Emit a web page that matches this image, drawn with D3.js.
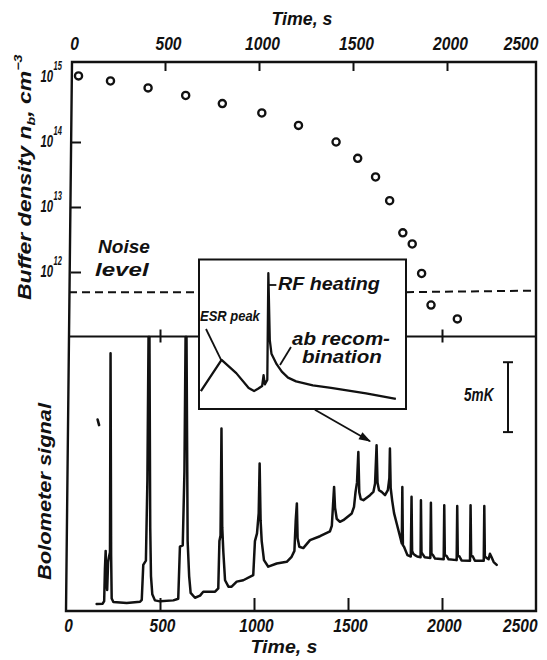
<!DOCTYPE html>
<html><head><meta charset="utf-8">
<script src="https://cdn.jsdelivr.net/npm/d3@7"></script>
<style>
html,body{margin:0;padding:0;background:#fff;}
svg text{font-family:"Liberation Sans",Arial,sans-serif;font-weight:bold;font-style:italic;fill:#111;}
</style></head><body>
<svg id="c" width="547" height="660"></svg>
<script>
// ---------------- data ----------------
const timeTicks = [0, 500, 1000, 1500, 2000, 2500];
const densityTicks = [1e12, 1e13, 1e14, 1e15];
const densityExponents = ["12", "13", "14", "15"];

// buffer density (open circles, top panel, top time axis)
const densityTime  = [40, 210, 410, 610, 805, 1015, 1210, 1410, 1525, 1620, 1695, 1765, 1815, 1865, 1915, 2055];
const densityValue = [1.04e15, 8.7e14, 6.8e14, 5.2e14, 3.9e14, 2.8e14, 1.8e14, 1.0e14, 5.6e13, 2.9e13, 1.25e13, 4.0e12, 2.7e12, 9.5e11, 3.1e11, 1.9e11];
const noiseLevel = 4.9e11;

// bolometer trace (bottom panel), value in mK above frame bottom
const signalTime = [163,195,203,207,211,215,219,224,229,234,237,240,243,252,323,394,403,411,425,433,439,444,448,452,459,473,500,571,597,606,621,630,636,641,647,655,663,686,713,730,793,810,816,822,827,831,837,846,864,881,908,943,996,1005,1016,1025,1030,1035,1041,1053,1076,1121,1174,1200,1215,1222,1228,1232,1241,1262,1298,1351,1404,1414,1420,1426,1431,1440,1457,1475,1520,1532,1540,1548,1555,1560,1568,1582,1617,1635,1644,1652,1657,1665,1679,1697,1712,1720,1723,1727,1735,1745,1759,1777,1786,1789,1792,1798,1816,1834,1838,1841,1847,1856,1868,1886,1888,1891,1898,1908,1938,1941,1944,1952,1963,2009,2012,2015,2024,2035,2078,2081,2084,2093,2104,2149,2152,2155,2164,2175,2222,2225,2228,2238,2248,2255,2262,2275,2291];
const signalValue = [0.5,0.52,0.7,3.0,4.3,2.0,1.5,3.5,3.9,4.2,18.45,4.0,0.9,0.64,0.57,0.66,0.8,3.3,3.6,9.4,19.6,19.6,6.0,2.5,1.2,0.76,0.69,0.76,0.88,4.6,4.7,10.0,19.6,19.6,5.0,2.5,1.3,0.95,1.1,1.38,1.38,1.62,5.0,5.4,13.05,6.0,4.2,2.2,1.74,1.74,2.1,2.2,2.57,5.0,5.55,7.0,10.55,6.5,5.0,3.64,3.17,3.4,3.52,3.88,4.3,6.5,7.7,5.2,4.6,4.5,5.07,5.35,5.7,6.1,7.5,8.88,7.4,6.6,6.38,6.5,6.98,7.45,8.5,9.2,11.38,8.5,8.0,7.93,8.29,8.52,9.12,11.86,9.2,8.64,8.52,8.29,8.64,9.5,11.62,8.8,7.9,7.0,6.26,5.31,4.83,8.88,4.7,4.6,4.0,3.9,8.17,4.3,4.1,4.0,3.9,3.85,7.93,4.2,4.05,3.85,3.8,7.74,4.1,4.0,3.75,3.7,7.57,4.0,3.95,3.7,3.64,7.52,3.95,3.9,3.62,3.6,7.57,3.95,3.9,3.6,3.6,7.52,3.9,3.8,3.7,4.1,3.9,3.5,3.3];
const strayMarkTime = [168, 176];
const strayMarkValue = [13.7, 13.3];

// inset (magnified single heating cycle), arbitrary units 0..100
const insetTime  = [0.9,10.9,18,24,26.6,28.5,30.5,31.2,31.8,33,33.5,34.2,35,37.5,40,43,46.9,55,63.8,80.7,95.1];
const insetValue = [12,32.8,24,14,12,13.5,15.4,22.7,16.5,19.5,90.8,46,37,30,25,21,18.5,15.8,14.2,10.5,6.7];

// 5 mK scale bar, arrow from inset
const scaleBarValue = [12.8, 17.8];
const scaleBarTime = 2351;
const arrowTime = [1324, 1617];
const arrowValue = [14.4, 12.15];

// ---------------- layout ----------------
const svg = d3.select("#c");
const FT = 62, FB = 611, FR = 536, FLtop = 72, FLbot = 66, DIV = 336.5;
const box = {x0: 199, y0: 259.5, x1: 406, y1: 409};
const fmt = d3.format("d");

const xT = d3.scaleLinear().domain([0, 2500]).range([71, 541]);
const xB = d3.scaleLinear().domain([0, 2500]).range([66, 536]);
const yLog = d3.scaleLog().domain([1e12, 1e15]).range([272, 77]);
const yS = d3.scaleLinear().domain([0, 19.64]).range([FB, DIV]);
const ix = d3.scaleLinear().domain([0, 100]).range([box.x0, box.x1]);
const iy = d3.scaleLinear().domain([0, 100]).range([box.y1, box.y0]);

// text helper: fits text to a target width
function label(parent, x, y, parts, size, width, anchor, rot) {
  const g = parent.append("g").attr("transform", `translate(${x},${y}) rotate(${rot||0})`);
  const t = g.append("text").attr("font-size", size).attr("text-anchor", anchor || "start");
  let shift = 0;
  parts.forEach(p => {
    const s = typeof p === "string" ? {s: p} : p;
    const ts = t.append("tspan").text(s.s);
    let target = 0;
    if (s.k === "sup") { target = -size * 0.45; ts.attr("font-size", size * 0.62); }
    if (s.k === "sub") { target = size * 0.2; ts.attr("font-size", size * 0.62); }
    ts.attr("dy", target - shift); shift = target;
  });
  const w = t.node().getBBox().width;
  if (width && w > 0) t.attr("transform", `scale(${width / w},1)`);
  return g;
}

// frame
svg.append("path")
  .attr("d", `M${FLtop},${FT}L${FR},${FT}L${FR},${FB}L${FLbot},${FB}Z`)
  .attr("fill", "none").attr("stroke", "#111").attr("stroke-width", 2.4);

// top axis
const topAx = svg.append("g").attr("transform", `translate(0,${FT})`)
  .call(d3.axisTop(xT).tickValues(timeTicks).tickFormat(fmt).tickSizeInner(-9).tickSizeOuter(0).tickPadding(12));
topAx.select(".domain").remove();
topAx.selectAll(".tick line").attr("stroke", "#111").attr("stroke-width", 2)
  .attr("opacity", d => (d === 0 || d === 2500) ? 0 : 1);
topAx.selectAll(".tick text").attr("font-size", 18).attr("fill", "#111")
  .attr("font-family", null)
  .attr("textLength", d => fmt(d).length * 8.7).attr("lengthAdjust", "spacingAndGlyphs")
  .attr("text-anchor", d => d === 2500 ? "end" : "middle")
  .attr("x", d => d === 2500 ? -3 : 3);

// bottom axis
const botAx = svg.append("g").attr("transform", `translate(0,${FB})`)
  .call(d3.axisBottom(xB).tickValues(timeTicks).tickFormat(fmt).tickSizeInner(-13).tickSizeOuter(0).tickPadding(8));
botAx.select(".domain").remove();
botAx.selectAll(".tick line").attr("stroke", "#111").attr("stroke-width", 2)
  .attr("opacity", d => (d === 0 || d === 2500) ? 0 : 1);
botAx.selectAll(".tick text").attr("font-size", 18).attr("fill", "#111")
  .attr("font-family", null)
  .attr("textLength", d => fmt(d).length * 8.6).attr("lengthAdjust", "spacingAndGlyphs")
  .attr("text-anchor", d => d === 2500 ? "end" : "middle")
  .attr("x", d => d === 2500 ? 1 : 2);

// left log axis ticks
const leftAx = svg.append("g").attr("transform", `translate(71,0)`)
  .call(d3.axisLeft(yLog).tickValues(densityTicks.slice(0, 3)).tickSizeInner(-10).tickSizeOuter(0).tickFormat(""));
leftAx.select(".domain").remove();
leftAx.selectAll(".tick line").attr("stroke", "#111").attr("stroke-width", 2);

// left labels 10^n
densityTicks.forEach((v, i) => {
  const y = yLog(v);
  label(svg, 53, y + 4.5, ["10"], 17, 13, "end");
  label(svg, 53.5, y - 7, [densityExponents[i]], 12, 8.5, "start");
});

// titles
label(svg, 302, 25, ["Time, s"], 18, 61, "middle");
label(svg, 284, 653, ["Time, s"], 18, 67, "middle");
label(svg, 31, 300, ["Buffer density n", {s: "b", k: "sub"}, ", cm", {s: "−3", k: "sup"}], 19, 246, "start", -90);
label(svg, 51, 580, ["Bolometer signal"], 19, 178, "start", -90);
label(svg, 98, 253, ["Noise"], 18, 52, "start");
label(svg, 95, 276, ["level"], 18, 55, "start");
label(svg, 464, 401, ["5mK"], 18, 31, "start");

// noise level dashed line and divider (interrupted by inset)
const yN = yLog(noiseLevel);
[[69, box.x0], [box.x1, FR]].forEach(([a, b]) => {
  svg.append("line").attr("x1", a).attr("x2", b).attr("y1", yN).attr("y2", yN - (a > 300 ? 1.5 : 0))
    .attr("stroke", "#111").attr("stroke-width", 2).attr("stroke-dasharray", "8,5");
  svg.append("line").attr("x1", a).attr("x2", b).attr("y1", DIV).attr("y2", DIV)
    .attr("stroke", "#111").attr("stroke-width", 2);
});
[500, 2000].forEach(t => {
  const x = (xT(t) + xB(t)) / 2 - 2;
  svg.append("line").attr("x1", x).attr("x2", x).attr("y1", DIV - 7).attr("y2", DIV + 6)
    .attr("stroke", "#111").attr("stroke-width", 2);
});

// density circles
svg.append("g").selectAll("circle").data(d3.range(densityTime.length)).join("circle")
  .attr("cx", i => xT(densityTime[i])).attr("cy", i => yLog(densityValue[i]))
  .attr("r", 3.6).attr("fill", "#fff").attr("stroke", "#111").attr("stroke-width", 2.3);

// bolometer trace
const line = d3.line().x(i => xB(signalTime[i])).y(i => yS(signalValue[i]));
svg.append("path").attr("d", line(d3.range(signalTime.length)))
  .attr("fill", "none").attr("stroke", "#111").attr("stroke-width", 2.5)
  .attr("stroke-linejoin", "round").attr("stroke-linecap", "round");
svg.append("path").attr("d", d3.line().x(i => xB(strayMarkTime[i])).y(i => yS(strayMarkValue[i]))([0, 1]))
  .attr("stroke", "#111").attr("stroke-width", 2.6).attr("stroke-linecap", "round");

// scale bar
const sbx = xB(scaleBarTime);
svg.append("line").attr("x1", sbx).attr("x2", sbx).attr("y1", yS(scaleBarValue[0])).attr("y2", yS(scaleBarValue[1]))
  .attr("stroke", "#111").attr("stroke-width", 2);
scaleBarValue.forEach(v => svg.append("line").attr("x1", sbx - 5).attr("x2", sbx + 5)
  .attr("y1", yS(v)).attr("y2", yS(v)).attr("stroke", "#111").attr("stroke-width", 2));

// inset box
svg.append("rect").attr("x", box.x0).attr("y", box.y0).attr("width", box.x1 - box.x0).attr("height", box.y1 - box.y0)
  .attr("fill", "#fff").attr("stroke", "#111").attr("stroke-width", 2);
const iline = d3.line().x(i => ix(insetTime[i])).y(i => iy(insetValue[i]));
svg.append("path").attr("d", iline(d3.range(insetTime.length)))
  .attr("fill", "none").attr("stroke", "#111").attr("stroke-width", 2.3).attr("stroke-linejoin", "round");
// inset annotations
label(svg, 278, 290, ["RF heating"], 18, 102, "start");
svg.append("line").attr("x1", ix(33.5)).attr("x2", ix(33.5) + 8).attr("y1", 285).attr("y2", 285)
  .attr("stroke", "#111").attr("stroke-width", 1.8);
label(svg, 200, 321, ["ESR peak"], 14, 61, "start");
svg.append("line").attr("x1", 206).attr("y1", 329).attr("x2", ix(10.9)).attr("y2", iy(32.8) + 1)
  .attr("stroke", "#111").attr("stroke-width", 1.8);
label(svg, 292, 345, ["ab recom-"], 18, 98, "start");
label(svg, 302, 363, ["bination"], 18, 80, "start");
svg.append("line").attr("x1", 291).attr("y1", 347).attr("x2", 280).attr("y2", 365)
  .attr("stroke", "#111").attr("stroke-width", 1.8);

// arrow
const ax0 = xB(arrowTime[0]), ay0 = yS(arrowValue[0]), ax1 = xB(arrowTime[1]), ay1 = yS(arrowValue[1]);
svg.append("line").attr("x1", ax0).attr("y1", ay0).attr("x2", ax1).attr("y2", ay1)
  .attr("stroke", "#111").attr("stroke-width", 1.8);
const ang = Math.atan2(ay1 - ay0, ax1 - ax0), L = 11, W = 4;
const p = [[ax1 + 1, ay1 + 0.5],
  [ax1 - L * Math.cos(ang) + W * Math.sin(ang), ay1 - L * Math.sin(ang) - W * Math.cos(ang)],
  [ax1 - L * Math.cos(ang) - W * Math.sin(ang), ay1 - L * Math.sin(ang) + W * Math.cos(ang)]];
svg.append("path").attr("d", "M" + p.join("L") + "Z").attr("fill", "#111");
</script>
</body></html>
